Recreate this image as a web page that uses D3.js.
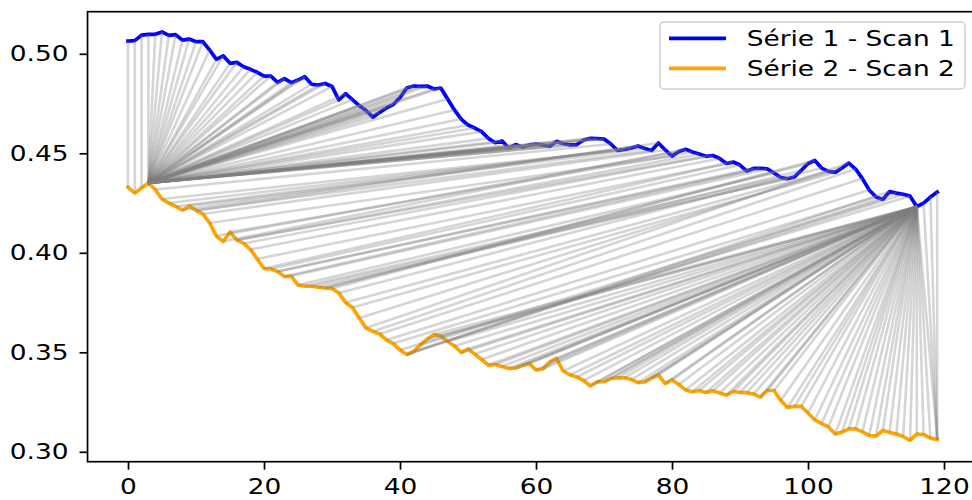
<!DOCTYPE html>
<html><head><meta charset="utf-8">
<script src="https://cdn.jsdelivr.net/npm/d3@7"></script>
<style>
body{margin:0;background:#fff}
svg{display:block;font-family:"DejaVu Sans",sans-serif}
</style>
</head><body>
<svg id="chart" width="972" height="500"></svg>
<script>
// Scan 1 profile
const series1 = [
0.5064,0.5066,0.5094,0.5098,0.5098,0.5110,0.5093,0.5096,0.5069,0.5074,
0.5061,0.5061,0.5019,0.4972,0.4990,0.4952,0.4957,0.4935,0.4922,0.4907,
0.4888,0.4888,0.4857,0.4875,0.4855,0.4868,0.4885,0.4847,0.4843,0.4851,
0.4836,0.4768,0.4800,0.4770,0.4740,0.4715,0.4682,0.4705,0.4728,0.4745,
0.4780,0.4828,0.4838,0.4836,0.4838,0.4823,0.4828,0.4773,0.4718,0.4672,
0.4642,0.4627,0.4609,0.4575,0.4553,0.4562,0.4527,0.4544,0.4532,0.4542,
0.4547,0.4542,0.4534,0.4560,0.4549,0.4542,0.4544,0.4567,0.4575,0.4574,
0.4572,0.4547,0.4514,0.4519,0.4527,0.4537,0.4524,0.4514,0.4552,0.4517,
0.4486,0.4509,0.4520,0.4507,0.4496,0.4485,0.4489,0.4474,0.4449,0.4456,
0.4441,0.4411,0.4424,0.4425,0.4422,0.4401,0.4378,0.4372,0.4381,0.4414,
0.4449,0.4464,0.4426,0.4409,0.4404,0.4426,0.4451,0.4421,0.4373,0.4316,
0.4280,0.4268,0.4308,0.4300,0.4294,0.4285,0.4232,0.4250,0.4280,0.4305
];
// Scan 2 profile
const series2 = [
0.4329,0.4300,0.4326,0.4351,0.4318,0.4270,0.4250,0.4233,0.4215,0.4235,
0.4213,0.4195,0.4150,0.4084,0.4057,0.4104,0.4064,0.4047,0.4017,0.3969,
0.3921,0.3919,0.3906,0.3881,0.3883,0.3838,0.3833,0.3832,0.3827,0.3823,
0.3821,0.3798,0.3750,0.3725,0.3672,0.3622,0.3605,0.3592,0.3562,0.3544,
0.3512,0.3489,0.3504,0.3537,0.3567,0.3589,0.3582,0.3554,0.3532,0.3499,
0.3517,0.3491,0.3464,0.3436,0.3439,0.3429,0.3419,0.3421,0.3434,0.3444,
0.3411,0.3416,0.3451,0.3469,0.3406,0.3386,0.3376,0.3358,0.3331,0.3351,
0.3352,0.3368,0.3372,0.3372,0.3363,0.3348,0.3351,0.3371,0.3386,0.3343,
0.3361,0.3338,0.3311,0.3302,0.3308,0.3298,0.3306,0.3295,0.3285,0.3303,
0.3298,0.3297,0.3290,0.3275,0.3308,0.3308,0.3258,0.3223,0.3228,0.3228,
0.3195,0.3160,0.3142,0.3125,0.3089,0.3099,0.3115,0.3115,0.3100,0.3082,
0.3079,0.3107,0.3097,0.3089,0.3077,0.3057,0.3089,0.3087,0.3069,0.3062
];
// DTW warping path: index into series 1 / index into series 2
const pathSeries1 = [
0,1,2,3,4,5,6,7,8,9,10,11,12,13,14,15,16,17,18,19,
20,21,22,23,24,25,26,27,28,29,30,31,32,33,34,35,36,37,38,39,
40,41,42,43,44,45,46,47,48,49,50,51,52,53,54,55,56,57,58,59,
60,61,62,63,64,65,66,67,68,69,70,
71,72,73,74,75,76,77,78,79,80,81,82,83,84,85,86,87,88,89,90,
91,92,93,94,95,96,97,98,99,100,101,102,103,104,105,106,107,108,109,110,
111,112,113,114,115,116,
116,116,116,116,116,116,116,116,116,116,
116,116,116,116,116,116,116,116,116,116,
116,116,116,116,116,116,116,116,116,116,
116,116,116,116,116,116,116,116,116,116,
116,116,116,116,116,116,116,116,116,116,
116,116,116,116,116,116,116,116,116,116,
116,116,116,116,116,116,116,116,116,116,
116,116,116,116,116,
117,118,119
];
const pathSeries2 = [
0,1,2,3,
3,3,3,3,3,3,3,3,3,3,
3,3,3,3,3,3,3,3,3,3,
3,3,3,3,3,3,3,3,3,3,
3,3,3,3,3,3,3,3,3,3,
3,3,3,3,3,3,3,3,3,3,
3,3,3,3,3,3,3,3,3,3,
3,3,3,3,3,3,3,
4,5,6,7,8,9,10,10,11,12,13,14,15,16,16,17,18,19,20,21,
22,22,23,24,25,26,27,28,29,29,30,31,32,33,34,35,36,37,38,39,
40,41,41,42,43,44,
45,46,47,48,49,50,51,52,53,54,55,56,57,58,59,60,61,62,63,64,
65,66,67,68,69,70,71,72,73,74,75,76,77,78,79,80,81,82,83,84,
85,86,87,88,89,90,91,92,93,94,95,96,97,98,99,100,101,102,103,104,
105,106,107,108,109,110,111,112,113,114,115,116,117,118,119,
119,119,119
];
const xTickValues = [0, 20, 40, 60, 80, 100, 120];
const yTickValues = [0.30, 0.35, 0.40, 0.45, 0.50];
const legendLabels = ["Série 1 - Scan 1", "Série 2 - Scan 2"];
const seriesColors = ["#0000ff", "#ffa500"];

const svg = d3.select("#chart");
const plot = {left: 87.54, right: 977.66, top: 11.7, bottom: 461.7};
const x = d3.scaleLinear().domain([-5.95, 124.95]).range([plot.left, plot.right]);
const y = d3.scaleLinear().domain([0.29503, 0.52116]).range([plot.bottom, plot.top]);
const stretch = 1.2;

svg.append("clipPath").attr("id", "plotClip")
  .append("rect")
  .attr("x", plot.left).attr("y", plot.top)
  .attr("width", plot.right - plot.left).attr("height", plot.bottom - plot.top);

const body = svg.append("g").attr("clip-path", "url(#plotClip)");

// the two profiles
const line = d3.line().x((d, i) => x(i)).y(d => y(d));
[series1, series2].forEach((s, k) => {
  body.append("path").datum(s)
    .attr("d", line)
    .attr("fill", "none")
    .attr("stroke", seriesColors[k])
    .attr("stroke-width", 3.7)
    .attr("stroke-linejoin", "round")
    .attr("stroke-linecap", "square");
});

// alignment links, drawn over the profiles
const n = Math.min(pathSeries1.length, pathSeries2.length);
const links = d3.range(n).map(k => [pathSeries1[k], pathSeries2[k]]);
body.append("g").selectAll("line").data(links).join("line")
  .attr("x1", d => x(d[0])).attr("y1", d => y(series1[d[0]]))
  .attr("x2", d => x(d[1])).attr("y2", d => y(series2[d[1]]))
  .attr("stroke", "#808080").attr("stroke-opacity", 0.33)
  .attr("stroke-width", 2.6);

// frame
svg.append("rect")
  .attr("x", plot.left).attr("y", plot.top)
  .attr("width", plot.right - plot.left).attr("height", plot.bottom - plot.top)
  .attr("fill", "none").attr("stroke", "#000").attr("stroke-width", 1.7);

function widen(sel) {
  sel.selectAll("text").each(function() {
    const t = d3.select(this);
    const tx = +t.attr("x") || 0;
    t.attr("transform", `translate(${tx},0) scale(${stretch},1) translate(${-tx},0)`);
  });
}

const xAxis = svg.append("g")
  .attr("transform", `translate(0,${plot.bottom})`)
  .call(d3.axisBottom(x).tickValues(xTickValues).tickFormat(d3.format("d"))
    .tickSize(8).tickPadding(9));
const yAxis = svg.append("g")
  .attr("transform", `translate(${plot.left},0)`)
  .call(d3.axisLeft(y).tickValues(yTickValues).tickFormat(d3.format(".2f"))
    .tickSize(8).tickPadding(11));
[xAxis, yAxis].forEach(a => {
  a.select(".domain").remove();
  a.selectAll(".tick line").attr("stroke", "#000").attr("stroke-width", 1.7);
  a.selectAll("text").attr("font-size", 22).attr("fill", "#000")
    .attr("font-family", "DejaVu Sans, sans-serif");
  widen(a);
});

// legend
const legend = svg.append("g");
legend.append("rect")
  .attr("x", 660).attr("y", 22).attr("width", 305).attr("height", 67).attr("rx", 4)
  .attr("fill", "#fff").attr("fill-opacity", 0.8)
  .attr("stroke", "#d0d0d0").attr("stroke-width", 1.5);
legendLabels.forEach((label, k) => {
  const ly = 38.3 + k * 30;
  legend.append("line")
    .attr("x1", 669).attr("x2", 726).attr("y1", ly).attr("y2", ly)
    .attr("stroke", seriesColors[k]).attr("stroke-width", 3.7);
  legend.append("text")
    .attr("x", 746.7).attr("y", ly).attr("dy", "0.36em")
    .attr("font-size", 22).attr("fill", "#000")
    .text(label);
});
widen(legend);
</script>
</body></html>
